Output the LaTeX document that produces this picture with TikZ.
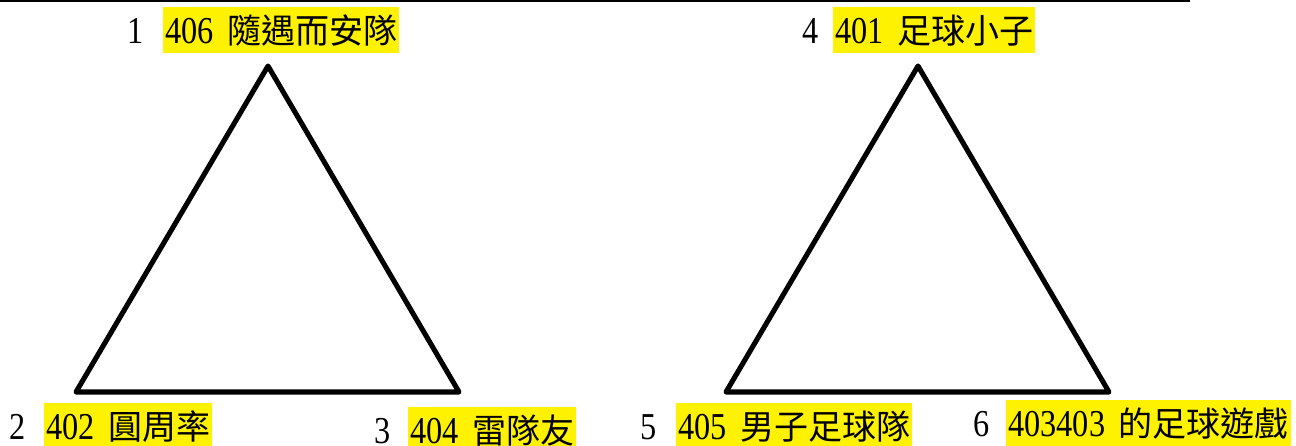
\documentclass[tikz,border=0pt]{standalone}
\usepackage{fontspec}
\setmainfont{Liberation Serif}[FakeStretch=0.85]
\newfontfamily\cjkfont{Noto Sans CJK TC}
\newcommand\zhtxt[1]{{\cjkfont\fontsize{25.5}{30}\selectfont #1}}
\newcommand\gap{\hspace{10pt}}
\begin{document}
\begin{tikzpicture}[x=0.75pt,y=-0.75pt,
  num/.style={font=\fontsize{28.5}{30}\selectfont, inner sep=0pt, anchor=base west},
  hl/.style={fill=yellow, font=\fontsize{28.5}{30}\selectfont, inner xsep=1.5pt, inner ysep=0pt, text height=27pt, text depth=7.5pt, anchor=base west},
  tri/.style={line width=3.8pt, line join=round},
  rule/.style={line width=1.5pt}]
\useasboundingbox (0,0) rectangle (1296,446);
% top rule
\coordinate (r1) at (0,1);
\coordinate (r2) at (1190,1);
\draw[rule] (r1) -- (r2);
% triangles
\coordinate (A1) at (268,66);
\coordinate (B1) at (76,392);
\coordinate (C1) at (459,392);
\coordinate (A2) at (918,66);
\coordinate (B2) at (726,392);
\coordinate (C2) at (1109,392);
\draw[tri] (A1) -- (B1) -- (C1) -- cycle;
\draw[tri] (A2) -- (B2) -- (C2) -- cycle;
% labels
\node[num] (n1) at (127,43) {1};
\node[hl] (l1) at (163,43) {406\gap\zhtxt{隨遇而安隊}};
\node[num] (n4) at (802,43) {4};
\node[hl] (l4) at (833,43) {401\gap\zhtxt{足球小子}};
\node[num] (n2) at (9,439) {2};
\node[hl] (l2) at (44,439) {402\gap\zhtxt{圓周率}};
\node[num] (n3) at (374,443) {3};
\node[hl] (l3) at (408,443) {404\gap\zhtxt{雷隊友}};
\node[num] (n5) at (640,439) {5};
\node[hl] (l5) at (676,439) {405\gap\zhtxt{男子足球隊}};
\node[num] (n6) at (973,436) {6};
\node[hl] (l6) at (1006,436) {403403\gap\zhtxt{的足球遊戲}};
\end{tikzpicture}
\end{document}
